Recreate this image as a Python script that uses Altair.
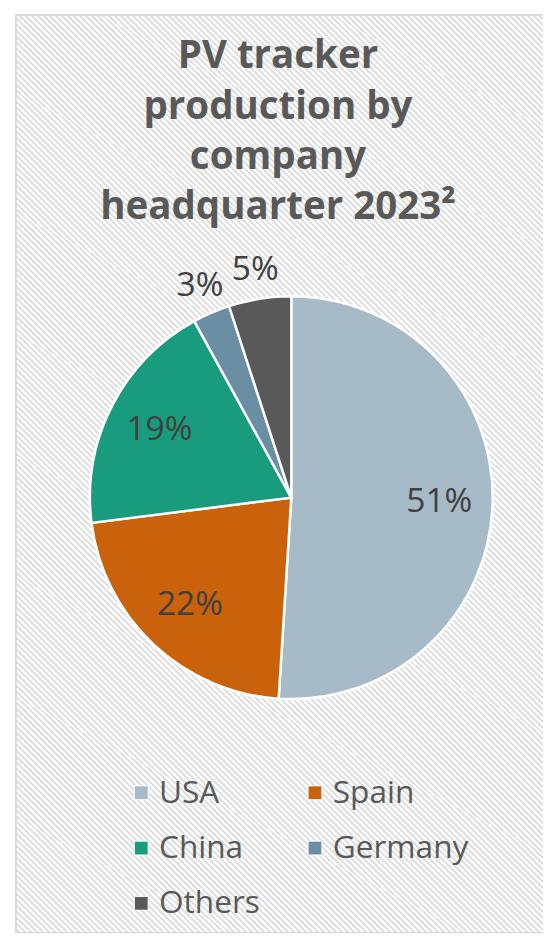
import altair as alt
import pandas as pd

# ---- data ----
categories = ["USA", "Spain", "China", "Germany", "Others"]
shares = [51, 22, 19, 3, 5]
colors = ["#a6bac7", "#c9620a", "#189c7d", "#6a8fa5", "#595959"]
title_lines = ["PV tracker", "production by", "company", "headquarter 2023²"]

df = pd.DataFrame({"category": categories, "share": shares, "order": list(range(len(categories)))})

# ---- layout constants (view coordinates) ----
W, H = 535, 925
CX, CY = 280, 490
R = 204

# diagonal stripe background via a hard-stop linear gradient
period = 4.24
L = (W + H) / 2 ** 0.5
n = int(L / period) + 1
stops = []
for k in range(n):
    a = k * period / L
    b = (k + 0.5) * period / L
    c = (k + 1) * period / L
    if a > 1:
        break
    stops += [
        alt.GradientStop(offset=min(a, 1), color="#ffffff"),
        alt.GradientStop(offset=min(b, 1), color="#ffffff"),
        alt.GradientStop(offset=min(b, 1), color="#e1e1e1"),
        alt.GradientStop(offset=min(c, 1), color="#e1e1e1"),
    ]
s = (W + H) / (W ** 2 + H ** 2)
grad = alt.LinearGradient(
    gradient="linear", stops=stops,
    x1=0, y1=1, x2=s * W, y2=1 - s * H,
)

bg = alt.Chart(alt.Data(values=[{"k": 1}])).mark_rect(
    fill=grad, stroke="#d9d9d9", strokeWidth=2
).encode(
    x=alt.value(1), x2=alt.value(W + 6), y=alt.value(1), y2=alt.value(H + 6)
)

pie = alt.Chart(df).mark_arc(radius=R, stroke="white", strokeWidth=2.5).encode(
    theta=alt.Theta("share:Q", stack=True),
    order=alt.Order("order:Q", sort="ascending"),
    x=alt.value(CX),
    y=alt.value(CY),
    color=alt.Color(
        "category:N",
        scale=alt.Scale(domain=categories, range=colors),
        sort=categories,
        legend=alt.Legend(
            title=None,
            orient="none",
            direction="horizontal",
            legendX=112,
            legendY=773,
            columns=2,
            symbolType="square",
            symbolSize=196,
            symbolStrokeWidth=1,
            symbolStrokeColor="white",
            labelFontSize=32,
            labelFont="Open Sans",
            labelColor="#595959",
            labelOffset=2,
            rowPadding=24,
            columnPadding=39,
            labelLimit=300,
        ),
    ),
)

labels = alt.Chart(df).transform_window(
    cum="sum(share)", sort=[alt.SortField("order", order="ascending")]
).transform_calculate(
    mid="datum.cum - datum.share / 2",
    lr="datum.share >= 10 ? 150 : 233",
    txt="datum.share + '%'",
).mark_text(
    font="Open Sans", fontSize=34, color="#404040", baseline="middle", align="center"
).encode(
    theta=alt.Theta("mid:Q", stack=None, scale=alt.Scale(domain=[0, 100])),
    radius=alt.Radius("lr:Q", scale=None),
    x=alt.value(CX),
    y=alt.value(CY),
    text="txt:N",
)

chart = alt.layer(bg, pie, labels).properties(
    width=W,
    height=H,
    autosize=alt.AutoSizeParams(type="none"),
    padding={"left": 7, "top": 0, "right": 0, "bottom": 0},
    title=alt.Title(
        text=title_lines,
        font="Open Sans",
        fontSize=39,
        fontWeight="bold",
        color="#595959",
        lineHeight=51,
        anchor="middle",
        baseline="alphabetic",
        dx=-1,
        dy=251,
    ),
).configure_view(stroke=None)

chart.save("out.html", embed_options={"renderer": "svg", "actions": False})
